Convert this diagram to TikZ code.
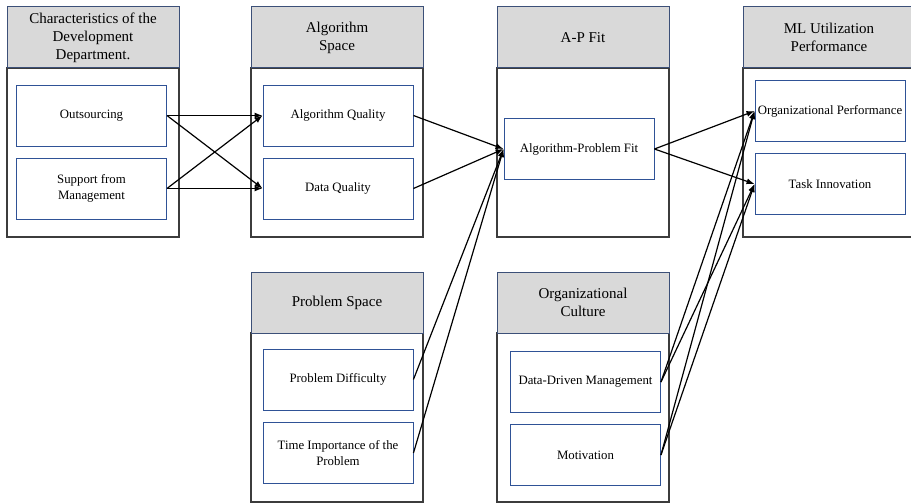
\documentclass[tikz,border=0pt]{standalone}
\usepackage{fontspec}
\setmainfont{Liberation Serif}
\usetikzlibrary{arrows.meta}
\definecolor{headfill}{RGB}{217,217,217}
\definecolor{headline}{RGB}{60,80,120}
\definecolor{itemline}{RGB}{47,82,150}
\definecolor{groupline}{RGB}{60,60,60}

\tikzset{
    groupbody/.style={draw=groupline, line width=1.1pt},
    grouphead/.style={draw=headline, fill=headfill, line width=1pt, minimum width=172pt, minimum height=61pt, inner sep=1pt, align=center, font=\fontsize{15}{18}\selectfont},
    item/.style={draw=itemline, fill=white, line width=0.9pt, minimum width=150pt, minimum height=61pt, inner sep=1pt, align=center, font=\fontsize{12.8}{16}\selectfont},
    link/.style={-{Latex[length=8pt,width=6pt]}, line width=1.2pt, black}
}

\begin{document}
\begin{tikzpicture}[x=1pt, y=-1pt]
    \useasboundingbox (0,0) rectangle (911,503);
    \clip (0,0) rectangle (911,503);

    % Group frames
    \draw[groupbody] (7,68) rectangle (179,237);
    \draw[groupbody] (251,68) rectangle (423,237);
    \draw[groupbody] (497,68) rectangle (669,237);
    \draw[groupbody] (743,68) rectangle (915,237);
    \draw[groupbody] (251,333) rectangle (423,502);
    \draw[groupbody] (497,333) rectangle (669,502);

    % Group headers
    \node[grouphead] (devhead) at (93,37.5) {Characteristics of the\\Development\\Department.};
    \node[grouphead] (alghead) at (337,37.5) {Algorithm\\Space};
    \node[grouphead] (fithead) at (583,37.5) {A-P Fit};
    \node[grouphead] (mlhead) at (829,37.5) {ML Utilization\\Performance};
    \node[grouphead] (probhead) at (337,302.5) {Problem Space};
    \node[grouphead] (culthead) at (583,302.5) {Organizational\\Culture};

    % Factors
    \node[item] (outsrc) at (91.5,115.5) {Outsourcing};
    \node[item] (support) at (91.5,188.5) {Support from\\Management};
    \node[item] (algq) at (338,115.5) {Algorithm Quality};
    \node[item] (dataq) at (338,188.5) {Data Quality};
    \node[item] (apfit) at (579,149) {Algorithm-Problem Fit};
    \node[item] (orgperf) at (830,111) {Organizational Performance};
    \node[item] (taskinno) at (830,184) {Task Innovation};
    \node[item] (probdiff) at (338,379.5) {Problem Difficulty};
    \node[item] (timeimp) at (338,453) {Time Importance of the\\Problem};
    \node[item] (datamgmt) at (585.5,382) {Data-Driven Management};
    \node[item] (motiv) at (585.5,455) {Motivation};

    % Connections
    \draw[link] (outsrc.east) -- (algq.west);
    \draw[link] (outsrc.east) -- (dataq.west);
    \draw[link] (support.east) -- (algq.west);
    \draw[link] (support.east) -- (dataq.west);
    \draw[link] (algq.east) -- (apfit.west);
    \draw[link] (dataq.east) -- (apfit.west);
    \draw[link] (probdiff.east) -- (apfit.west);
    \draw[link] (timeimp.east) -- (apfit.west);
    \draw[link] (apfit.east) -- (orgperf.west);
    \draw[link] (apfit.east) -- (taskinno.west);
    \draw[link] (datamgmt.east) -- (orgperf.west);
    \draw[link] (datamgmt.east) -- (taskinno.west);
    \draw[link] (motiv.east) -- (orgperf.west);
    \draw[link] (motiv.east) -- (taskinno.west);
\end{tikzpicture}
\end{document}
